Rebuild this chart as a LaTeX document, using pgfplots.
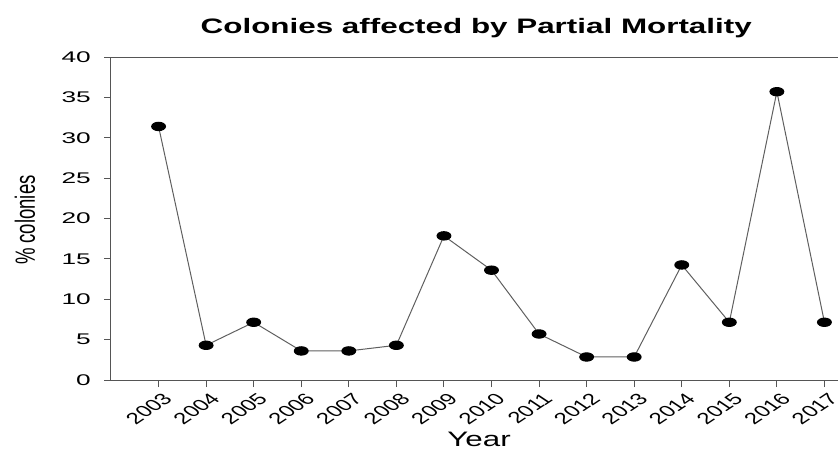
\documentclass[border=0pt]{standalone}
\usepackage{pgfplots}
\pgfplotsset{compat=1.18}
\usepackage{graphicx}
\usepackage{fontspec}
\setmainfont{Liberation Sans}
\newfontfamily\wide{Liberation Sans}[FakeStretch=1.5]
\newfontfamily\wider{Liberation Sans}[FakeStretch=1.7]
\definecolor{axgray}{RGB}{85,85,85}
\definecolor{lngray}{RGB}{95,95,95}
\begin{document}
\begin{tikzpicture}
\begin{axis}[
  scale only axis,
  width=761bp, height=323bp,
  xmin=2002, xmax=2018,
  ymin=0, ymax=40,
  xtick={2003,2004,2005,2006,2007,2008,2009,2010,2011,2012,2013,2014,2015,2016,2017},
  ytick={0,5,10,15,20,25,30,35,40},
  xticklabels={}, yticklabels={},
  xtick pos=lower, ytick pos=left,
  tick align=outside,
  major tick length=7bp,
  axis line style={axgray, line width=1bp},
  every tick/.style={axgray, line width=1bp},
  clip=false,
]
\addplot[color=lngray, line width=1bp, mark=*, mark size=4.2bp,
  mark options={xscale=1.65, fill=black, draw=black, solid}]
  coordinates {
  (2003,31.4) (2004,4.3) (2005,7.15) (2006,3.6) (2007,3.6)
  (2008,4.3) (2009,17.85) (2010,13.6) (2011,5.7) (2012,2.85)
  (2013,2.85) (2014,14.25) (2015,7.15) (2016,35.7) (2017,7.15)
  };
\pgfplotsinvokeforeach{2003,2004,2005,2006,2007,2008,2009,2010,2011,2012,2013,2014,2015,2016,2017}{
  \node[font=\fontsize{16}{18}\selectfont, inner sep=0pt, xscale=1.5, rotate=45, anchor=north east]
    at ([xshift=3bp,yshift=-12bp]axis cs:#1,0) {#1};
}
\pgfplotsinvokeforeach{0,5,10,15,20,25,30,35,40}{
  \node[font=\wider\fontsize{15.5}{17}\selectfont, inner sep=0pt, anchor=east]
    at ([xshift=-20bp]axis cs:2002,#1) {#1};
}
\coordinate (O) at (rel axis cs:0,0);
\node[anchor=base, font=\wide\bfseries\fontsize{21}{24}\selectfont]
  at ([yshift=24bp]rel axis cs:0.48,1) {Colonies affected by Partial Mortality};
\node[anchor=base, font=\wide\fontsize{21}{24}\selectfont]
  at ([yshift=-66bp]rel axis cs:0.4836,0) {Year};
\node[rotate=90, anchor=center, font=\fontsize{18.6}{20}\selectfont]
  at ([xshift=-86bp]rel axis cs:0,0.495) {\scalebox{1}[1.5]{\% colonies}};
\end{axis}
\pgfresetboundingbox
\path ([shift={(-111bp,-69bp)}]O) rectangle ([shift={(727bp,380bp)}]O);
\end{tikzpicture}
\end{document}
